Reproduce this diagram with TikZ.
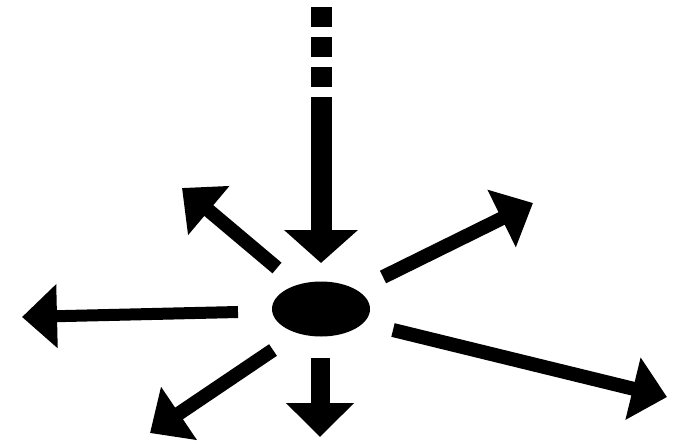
\documentclass[tikz,border=0pt]{standalone}
\usetikzlibrary{arrows.meta,shapes.geometric}
\tikzset{
  ray/.style={line width=14pt, -{Triangle[length=35pt,width=62pt]}},
  feed/.style={line width=21pt}
}
\begin{document}
\begin{tikzpicture}[x=1pt,y=-1pt]
                \useasboundingbox (0,0) rectangle (679,442);
                \node[ellipse, fill, inner sep=0pt, minimum width=98pt, minimum height=55pt] (core) at (321,309) {};
                \coordinate (topA) at (321,7);
                \coordinate (topB) at (321,88);
                \coordinate (topC) at (321,97);
                \coordinate (topTip) at (321,263);
                \coordinate (ulTail) at (277,268);
                \coordinate (ulTip) at (182,188);
                \coordinate (urTail) at (383,277);
                \coordinate (urTip) at (533,203);
                \coordinate (lTail) at (238,312);
                \coordinate (lTip) at (22,317);
                \coordinate (llTail) at (273,350);
                \coordinate (llTip) at (150,433);
                \coordinate (dTail) at (320,358);
                \coordinate (dTip) at (320,437);
                \coordinate (lrTail) at (393,330);
                \coordinate (lrTip) at (667,397);
                % incoming
                \draw[feed, dash pattern=on 20pt off 10pt] (topA) -- (topB);
                \draw[feed, -{Triangle[length=33pt,width=72pt]}] (topC) -- (topTip);
                % outgoing
                \draw[ray] (ulTail) -- (ulTip);
                \draw[ray] (urTail) -- (urTip);
                \draw[ray, line width=12pt] (lTail) -- (lTip);
                \draw[ray] (llTail) -- (llTip);
                \draw[ray, line width=19pt, -{Triangle[length=34pt,width=66pt]}] (dTail) -- (dTip);
                \draw[ray] (lrTail) -- (lrTip);
            \end{tikzpicture}
\end{document}
